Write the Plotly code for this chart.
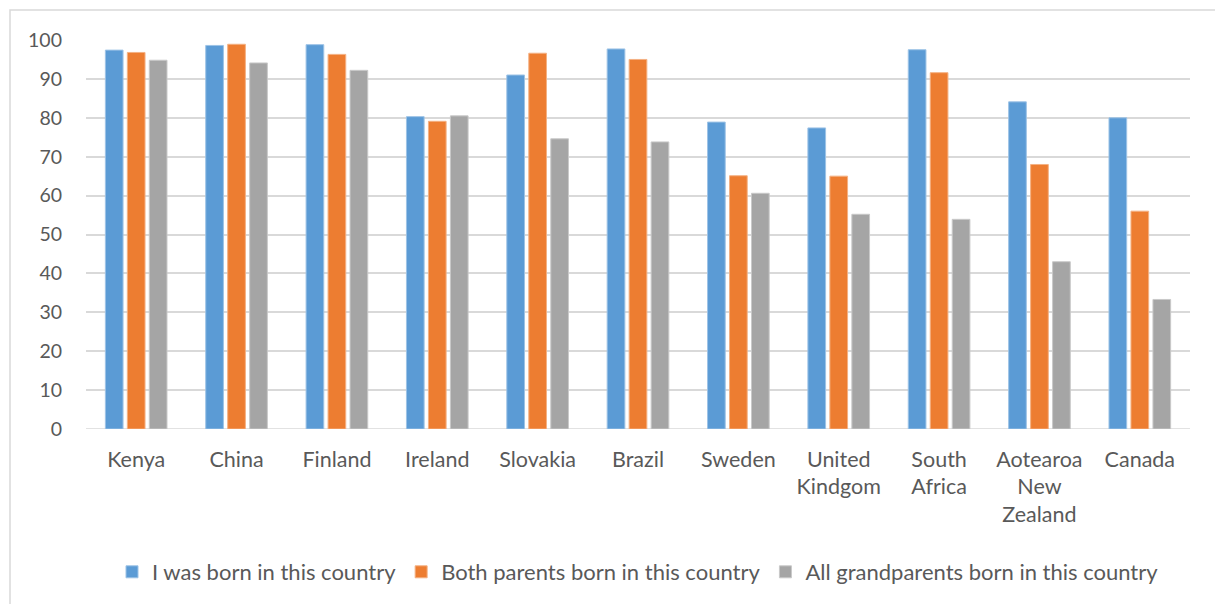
import plotly.graph_objects as go

countries = ["Kenya", "China", "Finland", "Ireland", "Slovakia", "Brazil", "Sweden",
             "United<br>Kindgom", "South<br>Africa", "Aotearoa<br>New<br>Zealand", "Canada"]
born_self = [97.4, 98.6, 98.8, 80.3, 91.0, 97.7, 78.9, 77.4, 97.5, 84.1, 80.0]
born_parents = [96.8, 98.9, 96.3, 79.1, 96.6, 95.0, 65.1, 65.0, 91.6, 68.0, 56.0]
born_grandparents = [94.8, 94.1, 92.2, 80.5, 74.6, 73.8, 60.6, 55.2, 53.9, 43.0, 33.3]

series_names = ["I was born in this country",
                "Both parents born in this country",
                "All grandparents born in this country"]
colors = ["#5b9bd5", "#ed7d31", "#a5a5a5"]
edge_colors = ["#9dc3e6", "#f4b183", "#c9c9c9"]

W, H = 1215, 604
L, R, T, B = 86, 25, 40, 174
pw, ph = W - L - R, H - T - B

fig = go.Figure()
for name, vals, c, ec in zip(series_names, [born_self, born_parents, born_grandparents], colors, edge_colors):
    fig.add_trace(go.Bar(
        x=list(range(len(countries))), y=vals, name=name,
        marker=dict(color=c, line=dict(color=ec, width=1)),
    ))

font = "Lato, 'Open Sans', sans-serif"
fig.update_layout(
    width=W, height=H,
    margin=dict(l=L, r=R, t=T, b=B),
    paper_bgcolor="white", plot_bgcolor="white",
    barmode="group", bargap=0.343, bargroupgap=0.195,
    font=dict(family=font, size=18, color="#595959"),
    xaxis=dict(
        range=[-0.5, len(countries) - 0.5],
        tickmode="array", tickvals=list(range(len(countries))), ticktext=countries,
        showgrid=False, zeroline=False, showline=False, ticks="",
        tickfont=dict(size=21.5, color="#595959"), ticklabelstandoff=15,
    ),
    yaxis=dict(
        range=[0, 100], tickmode="linear", dtick=10, tick0=0,
        showgrid=True, gridcolor="#d9d9d9", gridwidth=1.5,
        zeroline=False, showline=False, ticks="",
        tickfont=dict(size=19.5, color="#595959"), ticklabelstandoff=23,
    ),
    legend=dict(
        orientation="h", x=0.5, xanchor="center", y=-(572 - 430) / ph, yanchor="middle",
        font=dict(size=22, color="#595959"), traceorder="normal",
        itemwidth=30,
    ),
    shapes=[
        # x-axis baseline
        dict(type="line", xref="paper", yref="y", x0=0, x1=1, y0=0, y1=0,
             line=dict(color="#d9d9d9", width=1.5), layer="below"),
        # chart area border
        dict(type="rect", xref="paper", yref="paper",
             x0=(10 - L) / pw, x1=(W + 10 - L) / pw,
             y0=(H - B - (H + 10)) / ph, y1=(H - B - 10) / ph,
             line=dict(color="#d9d9d9", width=1.5), layer="below"),
    ],
)

fig.write_html("out.html")
